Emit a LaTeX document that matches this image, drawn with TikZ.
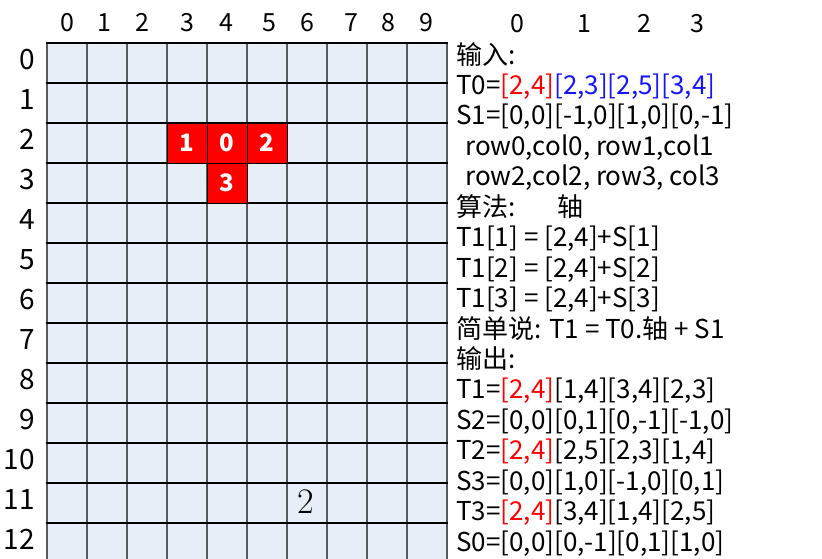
\documentclass[tikz,border=0pt]{standalone}
\usepackage{fontspec}
\newfontfamily\yahei{Noto Sans CJK SC}
\usepackage{xcolor}
\definecolor{cellblue}{RGB}{232,238,247}
\definecolor{gridgray}{RGB}{88,90,94}
\definecolor{tblue}{RGB}{20,20,255}

\tikzset{
  txtline/.style={anchor=base west,inner sep=0pt,font=\yahei\fontsize{26}{30}\selectfont},
  collabel/.style={anchor=base,inner sep=0pt,font=\yahei\fontsize{25}{28}\selectfont},
  rowlabel/.style={anchor=base east,inner sep=0pt,font=\yahei\fontsize{28}{30}\selectfont},
  redcell/.style={draw=black,line width=1pt,fill=red,minimum size=40pt,inner sep=0pt,
    text=white,font=\yahei\bfseries\fontsize{24}{26}\selectfont},
}

\begin{document}
\begin{tikzpicture}[x=1pt,y=-1pt,line cap=rect]
\useasboundingbox (0,0) rectangle (822,558);
% board
\fill[cellblue] (47,43) rectangle (447,563);
\foreach \c in {0,...,10}
  \draw[gridgray,line width=2pt] (47+40*\c,43) -- (47+40*\c,563);
\foreach \r in {0,...,13}
  \draw[black,line width=1.2pt] (47,43+40*\r) -- (447,43+40*\r);
% piece
\node[redcell] (b1) at (187,143) {1};
\node[redcell] (b0) at (227,143) {0};
\node[redcell] (b2) at (267,143) {2};
\node[redcell] (b3) at (227,183) {3};
\node[font=\fontsize{36}{40}\selectfont,inner sep=0pt] (mark) at (306,501.5) {2};
% column and row numbers
\foreach \c/\x in {0/67,1/104,2/142,3/187,4/226,5/269,6/307,7/351,8/388,9/426}
  \node[collabel] (c\c) at (\x,31) {\c};
\foreach \r in {0,...,12}
  \node[rowlabel] (r\r) at (35,69+40*\r) {\r};
\foreach \c/\x in {0/517,1/584,2/644,3/697}
  \node[collabel] (h\c) at (\x,32) {\c};
% notes
\node[txtline] (l0) at (456,64) {输入:};
\node[txtline] (l1) at (456,64+30.45*1) {T0=\textcolor{red}{[2,4]}\textcolor{tblue}{[2,3][2,5][3,4]}};
\node[txtline] (l2) at (456,64+30.45*2) {S1=[0,0][-1,0][1,0][0,-1]};
\node[txtline] (l3) at (465,64+30.45*3) {row0,col0, row1,col1};
\node[txtline] (l4) at (465,64+30.45*4) {row2,col2, row3, col3};
\node[txtline] (l5) at (456,64+30.45*5) {算法:};
\node[txtline] (axis) at (557,64+30.45*5) {轴};
\node[txtline] (l6) at (456,64+30.45*6) {T1[1] = [2,4]+S[1]};
\node[txtline] (l7) at (456,64+30.45*7) {T1[2] = [2,4]+S[2]};
\node[txtline] (l8) at (456,64+30.45*8) {T1[3] = [2,4]+S[3]};
\node[txtline] (l9) at (456,64+30.45*9) {简单说: T1 = T0.轴 + S1};
\node[txtline] (l10) at (456,64+30.45*10) {输出:};
\node[txtline] (l11) at (456,64+30.45*11) {T1=\textcolor{red}{[2,4]}[1,4][3,4][2,3]};
\node[txtline] (l12) at (456,64+30.45*12) {S2=[0,0][0,1][0,-1][-1,0]};
\node[txtline] (l13) at (456,64+30.45*13) {T2=\textcolor{red}{[2,4]}[2,5][2,3][1,4]};
\node[txtline] (l14) at (456,64+30.45*14) {S3=[0,0][1,0][-1,0][0,1]};
\node[txtline] (l15) at (456,64+30.45*15) {T3=\textcolor{red}{[2,4]}[3,4][1,4][2,5]};
\node[txtline] (l16) at (456,64+30.45*16) {S0=[0,0][0,-1][0,1][1,0]};
\end{tikzpicture}
\end{document}
